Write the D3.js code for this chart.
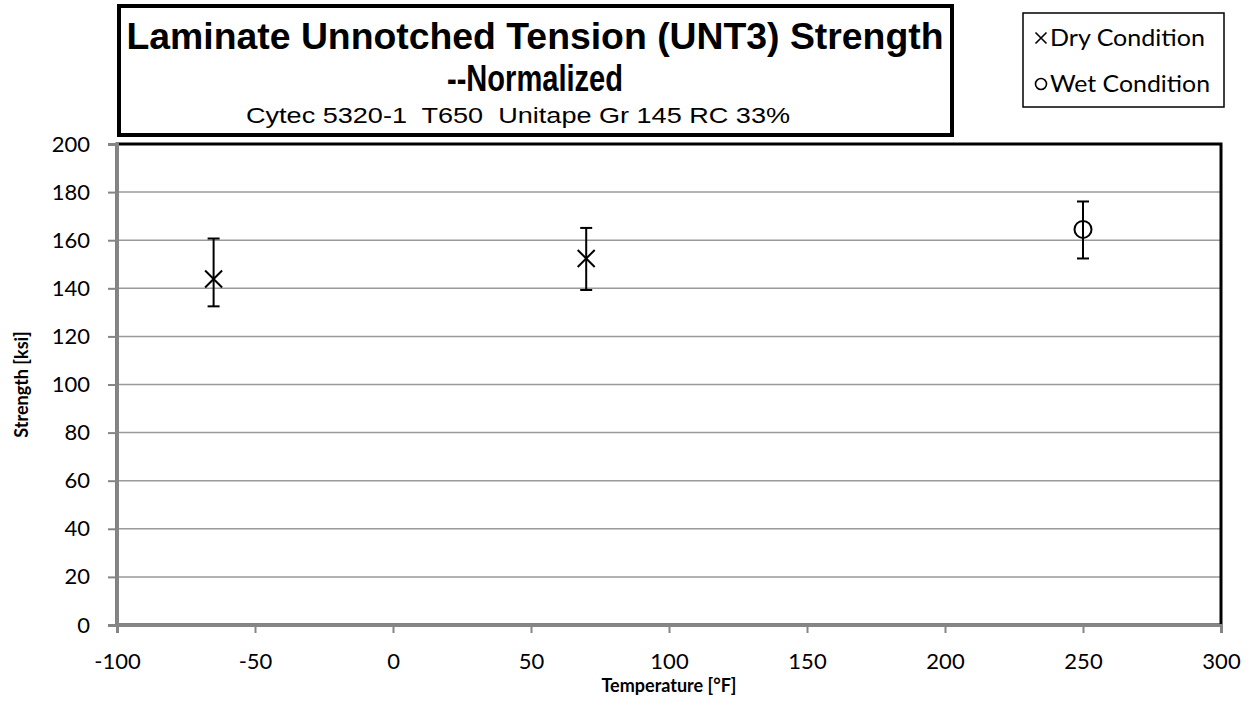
<!DOCTYPE html>
<html>
<head>
<meta charset="utf-8">
<script src="https://cdn.jsdelivr.net/npm/d3@7"></script>
<style>
  html, body { margin: 0; padding: 0; background: #fff; }
  svg { display: block; }
</style>
</head>
<body>
<svg id="chart" width="1253" height="709"></svg>
<script>
// Test temperatures and environmental condition of each group
const temperatures = [-65, 70, 250];
const conditions = ["Dry", "Dry", "Wet"];
// Normalized strength: mean, maximum and minimum of each group [ksi]
const strengthMean = [143.9, 152.4, 164.5];
const strengthMax = [160.7, 165.1, 176.1];
const strengthMin = [132.5, 139.3, 152.4];

const xTicks = [-100, -50, 0, 50, 100, 150, 200, 250, 300];
const yTicks = [0, 20, 40, 60, 80, 100, 120, 140, 160, 180, 200];

const legendLabels = ["Dry Condition", "Wet Condition"];
const titleLines = ["Laminate Unnotched Tension (UNT3) Strength", "--Normalized"];
const subtitle = "Cytec 5320-1  T650  Unitape Gr 145 RC 33%";

const svg = d3.select("#chart");
const plot = { left: 117, right: 1221, top: 144, bottom: 625 };

const x = d3.scaleLinear().domain([-100, 300]).range([plot.left, plot.right]);
const y = d3.scaleLinear().domain([0, 200]).range([plot.bottom, plot.top]);

const uiFont = "Lato, 'Open Sans', sans-serif";
// plain hyphen for negative numbers
const plainNumber = d => String(d);

// horizontal gridlines
svg.append("g")
  .selectAll("line")
  .data(yTicks.filter(d => d > 0 && d < 200))
  .join("line")
  .attr("x1", plot.left).attr("x2", plot.right)
  .attr("y1", d => y(d)).attr("y2", d => y(d))
  .attr("stroke", "#9a9a9a").attr("stroke-width", 1.5);

// plot frame (black)
svg.append("rect")
  .attr("x", plot.left).attr("y", plot.top)
  .attr("width", plot.right - plot.left).attr("height", plot.bottom - plot.top)
  .attr("fill", "none").attr("stroke", "#000").attr("stroke-width", 3);

// y axis
const yAxis = svg.append("g")
  .attr("transform", `translate(${plot.left},0)`)
  .call(d3.axisLeft(y).tickValues(yTicks).tickSize(9).tickPadding(18).tickFormat(plainNumber));
yAxis.select(".domain").attr("stroke", "#858585").attr("stroke-width", 3);
yAxis.selectAll(".tick line").attr("stroke", "#858585").attr("stroke-width", 2);
yAxis.selectAll(".tick text")
  .attr("font-family", uiFont).attr("font-size", 22).attr("fill", "#000");

// x axis
const xAxis = svg.append("g")
  .attr("transform", `translate(0,${plot.bottom})`)
  .call(d3.axisBottom(x).tickValues(xTicks).tickSize(8).tickPadding(20).tickFormat(plainNumber));
xAxis.select(".domain").attr("stroke", "#858585").attr("stroke-width", 3);
xAxis.selectAll(".tick line").attr("stroke", "#858585").attr("stroke-width", 2);
xAxis.selectAll(".tick text")
  .attr("font-family", uiFont).attr("font-size", 22).attr("fill", "#000");

// axis titles
svg.append("text")
  .attr("x", x(100)).attr("y", 692)
  .attr("text-anchor", "middle")
  .attr("font-family", uiFont).attr("font-weight", "bold").attr("font-size", 18)
  .text("Temperature [°F]");

svg.append("text")
  .attr("transform", `translate(28,${(plot.top + plot.bottom) / 2}) rotate(-90)`)
  .attr("text-anchor", "middle")
  .attr("font-family", uiFont).attr("font-weight", "bold").attr("font-size", 18)
  .text("Strength [ksi]");

// error bars and markers
const groups = temperatures.map((t, i) => ({
  t, cond: conditions[i], mean: strengthMean[i], max: strengthMax[i], min: strengthMin[i]
}));

const marks = svg.append("g").attr("stroke", "#000").attr("stroke-width", 2).attr("fill", "none");
const capHalf = 6;

marks.selectAll(".whisker")
  .data(groups).join("line")
  .attr("x1", d => x(d.t)).attr("x2", d => x(d.t))
  .attr("y1", d => y(d.max)).attr("y2", d => y(d.min));
marks.selectAll(".capTop")
  .data(groups).join("line").attr("class", "capTop")
  .attr("x1", d => x(d.t) - capHalf).attr("x2", d => x(d.t) + capHalf)
  .attr("y1", d => y(d.max)).attr("y2", d => y(d.max));
marks.selectAll(".capBottom")
  .data(groups).join("line").attr("class", "capBottom")
  .attr("x1", d => x(d.t) - capHalf).attr("x2", d => x(d.t) + capHalf)
  .attr("y1", d => y(d.min)).attr("y2", d => y(d.min));

function drawMarker(sel, cond, cx, cy, s) {
  if (cond === "Dry") {
    sel.append("path")
      .attr("d", `M${cx - s},${cy - s}L${cx + s},${cy + s}M${cx - s},${cy + s}L${cx + s},${cy - s}`);
  } else {
    sel.append("circle").attr("cx", cx).attr("cy", cy).attr("r", s);
  }
}
groups.forEach(d => drawMarker(marks, d.cond, x(d.t), y(d.mean), 8.5));

// title box
svg.append("rect")
  .attr("x", 119).attr("y", 6).attr("width", 833).attr("height", 129)
  .attr("fill", "#fff").attr("stroke", "#000").attr("stroke-width", 4);

const titleFont = "'Liberation Sans', Arial, sans-serif";
svg.append("text")
  .attr("x", 535).attr("y", 49).attr("text-anchor", "middle")
  .attr("font-family", titleFont).attr("font-weight", "bold").attr("font-size", 36)
  .attr("textLength", 817).attr("lengthAdjust", "spacingAndGlyphs")
  .text(titleLines[0]);
svg.append("text")
  .attr("x", 535).attr("y", 91).attr("text-anchor", "middle")
  .attr("font-family", titleFont).attr("font-weight", "bold").attr("font-size", 36)
  .attr("textLength", 176).attr("lengthAdjust", "spacingAndGlyphs")
  .text(titleLines[1]);
svg.append("text")
  .attr("x", 518).attr("y", 123).attr("text-anchor", "middle")
  .attr("font-family", titleFont).attr("font-size", 22)
  .attr("textLength", 544).attr("lengthAdjust", "spacingAndGlyphs")
  .attr("xml:space", "preserve")
  .text(subtitle);

// legend
const legend = svg.append("g");
legend.append("rect")
  .attr("x", 1023).attr("y", 13).attr("width", 201).attr("height", 94)
  .attr("fill", "#fff").attr("stroke", "#000").attr("stroke-width", 1.5);
const legendConds = ["Dry", "Wet"];
const legendWidths = [155, 160];
legendConds.forEach((c, i) => {
  const cy = 38 + i * 46;
  const g = legend.append("g").attr("stroke", "#000").attr("stroke-width", 1.6).attr("fill", "none");
  drawMarker(g, c, 1041, cy, 5.5);
  legend.append("text")
    .attr("x", 1050).attr("y", cy + 8)
    .attr("font-family", uiFont).attr("font-size", 24).attr("fill", "#000")
    .attr("textLength", legendWidths[i]).attr("lengthAdjust", "spacingAndGlyphs")
    .text(legendLabels[i]);
});
</script>
</body>
</html>
